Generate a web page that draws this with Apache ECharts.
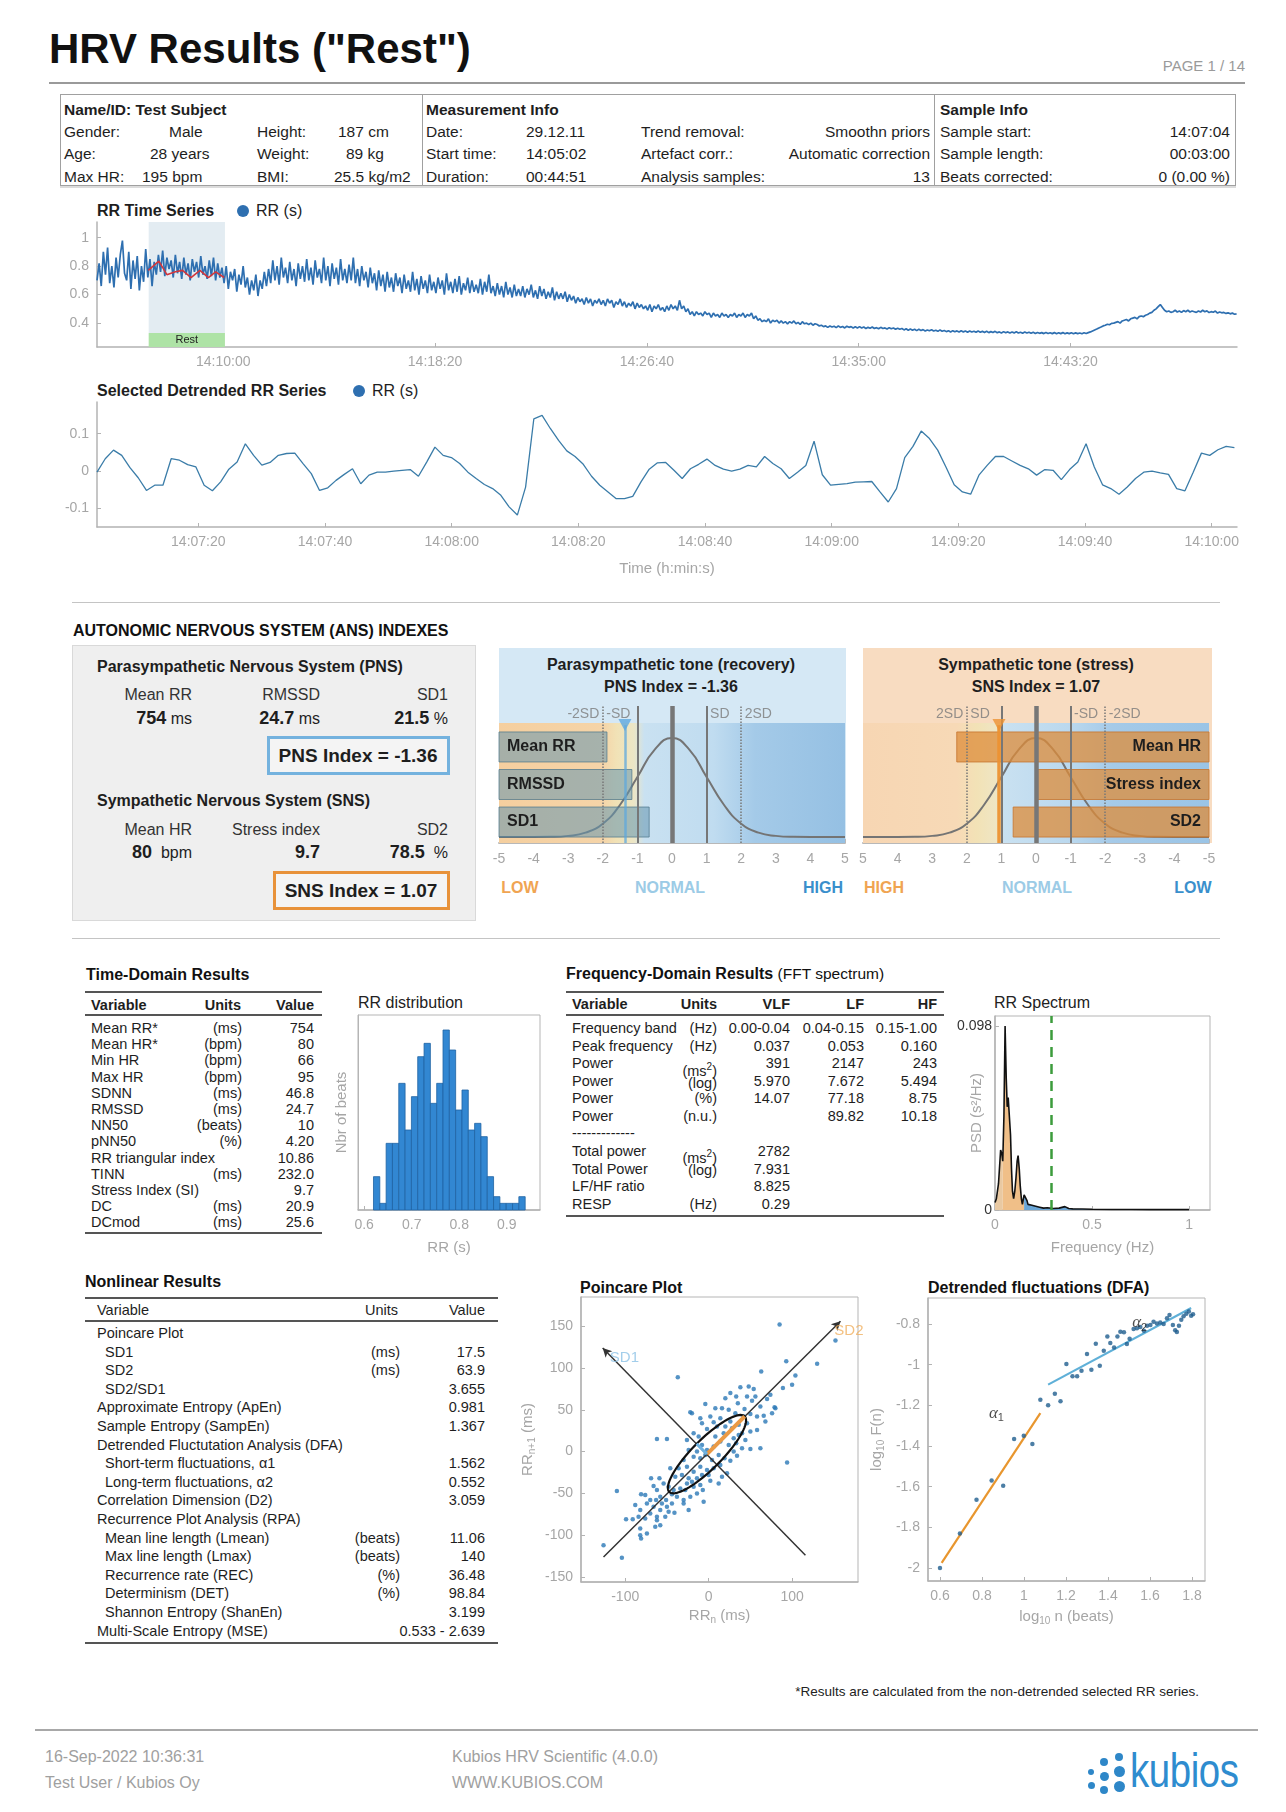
<!DOCTYPE html>
<html>
<head>
<meta charset="utf-8">
<title>HRV Results</title>
<script src="https://cdn.jsdelivr.net/npm/echarts@6.0.0/dist/echarts.min.js"></script>
<style>
html,body{margin:0;padding:0;background:#fff;}
#page{position:relative;width:1286px;height:1812px;overflow:hidden;font-family:"Liberation Sans",Arial,Helvetica,sans-serif;color:#1e1e1e;}
</style>
</head>
<body>
<div id="page"></div>
<script>
// ======================= DATA =======================
const reportTitle = 'HRV Results ("Rest")';
const pageLabel = 'PAGE 1 / 14';

const subjectHeader = 'Name/ID: Test Subject';
const subjectRows = [['Gender:','Male'],['Age:','28 years'],['Max HR:','195 bpm']];
const bodyRows = [['Height:','187 cm'],['Weight:','89 kg'],['BMI:','25.5 kg/m2']];
const measHeader = 'Measurement Info';
const measRows = [['Date:','29.12.11'],['Start time:','14:05:02'],['Duration:','00:44:51']];
const procRows = [['Trend removal:','Smoothn priors'],['Artefact corr.:','Automatic correction'],['Analysis samples:','13']];
const sampleHeader = 'Sample Info';
const sampleRows = [['Sample start:','14:07:04'],['Sample length:','00:03:00'],['Beats corrected:','0 (0.00 %)']];

// RR time series (s): one reading every 5 s from 14:05:02 (seconds of day)
const rrStartSec = 50702, rrStepSec = 5, rrEndSec = 53393;
const rrValues = [
0.70,0.82,0.66,0.90,0.74,0.93,0.68,0.80,0.65,0.86,0.72,0.88,0.98,0.75,0.70,0.90,0.64,0.84,0.71,0.87,
0.63,0.80,0.69,0.92,0.72,0.85,0.66,0.83,0.74,0.88,0.76,0.91,0.73,0.86,0.78,0.84,0.72,0.88,0.75,0.83,
0.71,0.86,0.74,0.82,0.70,0.85,0.76,0.83,0.72,0.87,0.74,0.80,0.71,0.84,0.73,0.86,0.70,0.82,0.72,0.79,
0.68,0.80,0.64,0.76,0.70,0.78,0.62,0.74,0.67,0.80,0.65,0.72,0.60,0.70,0.63,0.74,0.59,0.70,0.64,0.76,
0.66,0.78,0.68,0.84,0.70,0.80,0.67,0.86,0.72,0.79,0.68,0.83,0.70,0.78,0.66,0.82,0.71,0.80,0.69,0.85,
0.70,0.79,0.67,0.84,0.72,0.78,0.68,0.86,0.70,0.80,0.66,0.82,0.71,0.79,0.67,0.85,0.70,0.78,0.68,0.81,
0.70,0.86,0.68,0.78,0.66,0.80,0.70,0.76,0.65,0.79,0.68,0.75,0.63,0.77,0.66,0.74,0.62,0.76,0.65,0.72,
0.62,0.75,0.66,0.72,0.61,0.74,0.64,0.70,0.62,0.76,0.63,0.71,0.60,0.73,0.64,0.70,0.61,0.74,0.63,0.69,
0.61,0.72,0.64,0.70,0.60,0.75,0.63,0.69,0.61,0.71,0.62,0.73,0.60,0.68,0.63,0.72,0.61,0.70,0.62,0.67,
0.61,0.71,0.60,0.69,0.62,0.74,0.61,0.66,0.59,0.68,0.60,0.66,0.58,0.69,0.60,0.65,0.58,0.67,0.59,0.64,
0.59,0.66,0.58,0.64,0.60,0.67,0.58,0.63,0.57,0.66,0.59,0.64,0.57,0.62,0.58,0.65,0.56,0.62,0.57,0.61,
0.57,0.62,0.55,0.60,0.56,0.59,0.54,0.58,0.55,0.57,0.53,0.58,0.54,0.57,0.52,0.56,0.54,0.57,0.53,0.56,
0.52,0.57,0.54,0.56,0.51,0.55,0.53,0.57,0.52,0.55,0.51,0.54,0.52,0.55,0.50,0.54,0.51,0.53,0.50,0.52,
0.49,0.53,0.48,0.52,0.50,0.53,0.49,0.51,0.48,0.52,0.49,0.53,0.50,0.52,0.49,0.56,0.50,0.52,0.48,0.50,
0.46,0.48,0.45,0.48,0.46,0.47,0.45,0.48,0.46,0.47,0.44,0.47,0.45,0.46,0.44,0.47,0.45,0.46,0.44,0.46,
0.45,0.47,0.44,0.46,0.45,0.47,0.44,0.46,0.45,0.47,0.43,0.45,0.42,0.43,0.41,0.42,0.41,0.43,0.40,0.42,
0.41,0.42,0.40,0.415,0.40,0.41,0.395,0.41,0.40,0.415,0.395,0.405,0.39,0.41,0.395,0.40,0.39,0.40,0.385,0.395,
0.39,0.38,0.385,0.375,0.38,0.37,0.38,0.372,0.378,0.368,0.38,0.37,0.376,0.366,0.378,0.37,0.375,0.365,0.374,0.366,
0.375,0.365,0.372,0.362,0.37,0.364,0.372,0.362,0.368,0.36,0.37,0.362,0.366,0.358,0.368,0.36,0.365,0.356,0.364,0.357,
0.362,0.352,0.36,0.35,0.358,0.35,0.357,0.347,0.356,0.348,0.354,0.345,0.352,0.346,0.353,0.344,0.35,0.342,0.352,0.343,
0.348,0.34,0.346,0.338,0.347,0.339,0.345,0.337,0.346,0.338,0.344,0.336,0.345,0.337,0.343,0.335,0.344,0.336,0.342,0.334,
0.342,0.333,0.34,0.334,0.342,0.332,0.338,0.331,0.34,0.332,0.338,0.33,0.337,0.331,0.339,0.33,0.336,0.329,0.337,0.33,
0.336,0.328,0.335,0.327,0.334,0.328,0.333,0.326,0.334,0.327,0.332,0.326,0.333,0.325,0.332,0.326,0.333,0.325,0.331,0.326,
0.332,0.325,0.331,0.326,0.33,0.325,0.332,0.327,0.333,0.338,0.345,0.352,0.358,0.366,0.372,0.38,0.385,0.392,0.388,0.398,
0.40,0.405,0.41,0.40,0.415,0.42,0.425,0.415,0.43,0.435,0.44,0.43,0.445,0.45,0.445,0.455,0.46,0.47,0.475,0.49,
0.50,0.515,0.53,0.51,0.49,0.48,0.485,0.475,0.48,0.49,0.478,0.485,0.475,0.488,0.48,0.49,0.478,0.485,0.48,0.475,
0.485,0.478,0.49,0.48,0.486,0.474,0.48,0.476,0.484,0.47,0.478,0.472,0.475,0.468,0.472,0.465,0.47,0.462,0.465];
const restStartSec = 50824, restEndSec = 51004, restLabel = 'Rest';
const restTrendOffsets = [121,146,165,185,202,222,243,263,280,300];
const restTrendValues = [0.77,0.835,0.74,0.76,0.77,0.72,0.77,0.72,0.76,0.72];
const rrXTicks = [51000,51500,52000,52500,53000];
const rrYTicks = [0.4,0.6,0.8,1];

// Selected detrended RR series (s): 14:07:04 -> 14:10:04
const detStartSec = 50824, detStepSec = 1.3014, detEndSec = 51004;
const detValues = [
-0.003,0.033,0.056,0.042,0.009,-0.018,-0.052,-0.038,-0.038,0.033,
0.029,0.017,0.011,-0.038,-0.053,-0.029,0.005,0.024,0.073,0.042,
0.016,0.023,0.042,0.047,0.048,0.02,-0.007,-0.052,-0.045,-0.025,
-0.009,0.006,-0.034,-0.011,-0.003,-0.003,0.0,0.002,0.004,-0.014,
0.024,0.064,0.042,0.036,0.02,-0.003,-0.02,-0.036,-0.047,-0.065,
-0.096,-0.118,-0.043,0.14,0.149,0.114,0.082,0.054,0.039,0.018,
-0.014,-0.038,-0.056,-0.074,-0.074,-0.068,-0.029,0.005,0.022,0.023,
0.002,-0.02,0.006,0.018,0.032,0.015,0.005,0.0,0.005,0.015,
0.011,0.039,0.02,0.006,-0.02,-0.003,0.015,0.08,-0.01,-0.038,
-0.036,-0.034,-0.03,-0.029,-0.028,-0.056,-0.083,-0.047,0.036,0.066,
0.107,0.087,0.056,0.011,-0.037,-0.056,-0.062,-0.011,0.015,0.039,
0.039,0.027,0.015,0.006,-0.011,0.004,0.002,-0.023,0.004,0.024,
0.073,0.011,-0.037,-0.047,-0.062,-0.043,-0.02,-0.003,0.0,-0.005,
-0.009,-0.047,-0.053,-0.003,0.048,0.042,0.057,0.066,0.063];
const detXTicks = [50840,50860,50880,50900,50920,50940,50960,50980,51000];
const detYTicks = [-0.1,0,0.1];

// ANS indexes
const ansTitle = 'AUTONOMIC NERVOUS SYSTEM (ANS) INDEXES';
const pnsTitle = 'Parasympathetic Nervous System (PNS)';
const pnsLabels = ['Mean RR','RMSSD','SD1'];
const pnsValues = ['754','24.7','21.5'];
const pnsUnits = ['ms','ms','%'];
const pnsIndex = -1.36;
const snsTitle = 'Sympathetic Nervous System (SNS)';
const snsLabels = ['Mean HR','Stress index','SD2'];
const snsValues = ['80','9.7','78.5'];
const snsUnits = ['bpm','','%'];
const snsIndex = 1.07;
const pnsBarValues = [-1.88,-1.16,-0.66];
const snsBarValues = [2.29,0.0,0.66];
const bellX = [-5,-4,-3.5,-3,-2.5,-2,-1.5,-1,-0.5,0,0.5,1,1.5,2,2.5,3,3.5,4,5];
const bellY = [0.044,0.044,0.045,0.052,0.076,0.141,0.279,0.482,0.681,0.766,0.681,0.482,0.279,0.141,0.076,0.052,0.045,0.044,0.044];
const sdLines = [-2,-1,0,1,2];

// Time-domain
const timeRows = [['Mean RR*','(ms)','754'],['Mean HR*','(bpm)','80'],['Min HR','(bpm)','66'],['Max HR','(bpm)','95'],['SDNN','(ms)','46.8'],['RMSSD','(ms)','24.7'],['NN50','(beats)','10'],['pNN50','(%)','4.20'],['RR triangular index','','10.86'],['TINN','(ms)','232.0'],['Stress Index (SI)','','9.7'],['DC','(ms)','20.9'],['DCmod','(ms)','25.6']];
// RR distribution histogram
const histBinStart = 0.6196, histBinWidth = 0.0133;
const histCounts = [5,1,10,10,19,12,17,23,25,16,19,27,24,15,18,12,13,11,5,2,1,1,1,2];

// Frequency-domain
const freqHeader = ['Variable','Units','VLF','LF','HF'];
const freqRows = [['Frequency band','(Hz)','0.00-0.04','0.04-0.15','0.15-1.00'],['Peak frequency','(Hz)','0.037','0.053','0.160'],['Power','','391','2147','243'],['Power','','5.970','7.672','5.494'],['Power','(%)','14.07','77.18','8.75'],['Power','(n.u.)','','89.82','10.18'],['-------------','','','',''],['Total power','','2782','',''],['Total Power','','7.931','',''],['LF/HF ratio','','8.825','',''],['RESP','(Hz)','0.29','','']];
const specFreq = [0,0.007,0.018,0.029,0.035,0.04,0.046,0.052,0.058,0.063,0.068,0.074,0.08,0.085,0.09,0.096,0.102,0.108,0.114,0.119,0.125,0.13,0.136,0.141,0.15,0.159,0.165,0.17,0.175,0.18,0.19,0.2,0.21,0.22,0.23,0.25,0.27,0.3,0.33,0.36,0.37,0.38,0.4,0.45,0.5,0.6,0.7,0.8,0.9,1.0];
const specPsd = [0.004,0.006,0.014,0.032,0.03,0.026,0.05,0.098,0.07,0.055,0.06,0.061,0.04,0.022,0.01,0.006,0.01,0.017,0.026,0.029,0.022,0.013,0.006,0.003,0.008,0.009,0.005,0.003,0.0035,0.002,0.0025,0.0015,0.002,0.001,0.0015,0.001,0.0012,0.0008,0.001,0.0018,0.0012,0.0008,0.0006,0.0005,0.0004,0.0003,0.0003,0.0002,0.0002,0.0002];
const respFreq = 0.29;
const bandEdges = [0.04,0.15];

// Nonlinear
const nonlinRows = [[0,'Poincare Plot','',''],[1,'SD1','(ms)','17.5'],[1,'SD2','(ms)','63.9'],[1,'SD2/SD1','','3.655'],[0,'Approximate Entropy (ApEn)','','0.981'],[0,'Sample Entropy (SampEn)','','1.367'],[0,'Detrended Fluctutation Analysis (DFA)','',''],[1,'Short-term fluctuations, &alpha;1','','1.562'],[1,'Long-term fluctuations, &alpha;2','','0.552'],[0,'Correlation Dimension (D2)','','3.059'],[0,'Recurrence Plot Analysis (RPA)','',''],[1,'Mean line length (Lmean)','(beats)','11.06'],[1,'Max line length (Lmax)','(beats)','140'],[1,'Recurrence rate (REC)','(%)','36.48'],[1,'Determinism (DET)','(%)','98.84'],[1,'Shannon Entropy (ShanEn)','','3.199'],[0,'Multi-Scale Entropy (MSE)','','0.533 - 2.639']];

// Poincare
const poincareX = [85,152,130,93,104,63,-37,100,89,74,70,76,79,56,48,38,54,46,33,26,20,35,43,52,62,66,58,50,42,32,24,16,-4,-20,-10,2,6,14,26,36,46,50,40,30,18,10,-2,-8,-18,-26,-50,-62,14,24,33,40,50,62,6,-2,-8,-14,-24,-18,-10,-4,4,12,19,26,34,94,14,6,-2,-10,-18,-26,-32,-24,-14,-8,0,12,2,-10,-18,-26,-34,-42,-48,-44,-38,-30,-22,-14,-7,-51,-58,-62,-66,-54,-59,-69,-44,-50,-56,-63,-70,-76,-81,-74,-66,-58,-48,-41,-30,-24,-52,-62,-70,-88,-82,-76,-84,-91,-62,-58,-64,-82,-99,-82,-74,-81,-126,-104,-110,-22,20,28,8,-30,-40,-36,30,44,-20,58,68,80,22,-6,8,36,-12,16,-46,-28];
const poincareY = [152,133,105,108,91,96,89,80,76,68,63,46,53,66,78,77,75,66,66,70,64,58,51,61,54,43,42,45,42,46,50,52,57,46,40,42,35,40,36,32,34,24,22,16,22,30,27,34,22,14,15,15,12,8,10,4,3,4,6,2,8,0,2,-6,-8,-4,-10,-4,-8,-11,-5,-13,-16,-20,-22,-18,-24,-18,-28,-32,-32,-28,-28,-38,-35,-40,-42,-38,-44,-46,-42,-51,-54,-58,-54,-50,-46,-58,-54,-46,-41,-38,-32,-32,-62,-66,-62,-58,-58,-52,-51,-62,-66,-70,-72,-73,-62,-70,-78,-78,-74,-64,-70,-80,-78,-81,-82,-88,-90,-92,-81,-100,-98,-104,-112,-127,-47,47,30,28,18,-10,-30,-20,0,14,-36,26,36,52,-26,-60,52,20,18,-30,-20,-46];
const poincareCenter = [-2,-3];
const sd1 = 17.5, sd2 = 63.9;
const sd2Axis = [[-126,-126],[158,156]];
const sd1Axis = [[116,-124],[-127,124]];

// DFA
const dfaLogN = [0.6,0.695,0.774,0.846,0.901,0.953,0.999,1.04,1.078,1.115,1.147,1.174,1.202,1.231,1.253,1.274,1.30,1.321,1.342,1.361,1.38,1.397,1.411,1.429,1.445,1.459,1.476,1.49,1.503,1.522,1.538,1.554,1.571,1.586,1.602,1.617,1.633,1.649,1.665,1.681,1.693,1.709,1.72,1.728,1.738,1.749,1.76,1.773,1.785,1.796,1.805];
const dfaLogF = [-2.0,-1.83,-1.664,-1.57,-1.595,-1.366,-1.35,-1.39,-1.172,-1.2,-1.143,-1.18,-0.997,-1.057,-1.057,-1.03,-0.948,-1.025,-0.897,-1.005,-0.931,-0.861,-0.893,-0.915,-0.861,-0.838,-0.841,-0.898,-0.872,-0.825,-0.821,-0.815,-0.833,-0.808,-0.805,-0.789,-0.798,-0.792,-0.8,-0.772,-0.756,-0.805,-0.831,-0.839,-0.808,-0.779,-0.762,-0.749,-0.739,-0.759,-0.752];
const dfaAlpha1Fit = [[0.608,-1.975],[1.078,-1.238]];
const dfaAlpha2Fit = [[1.115,-1.098],[1.796,-0.721]];

const footnote = '*Results are calculated from the non-detrended selected RR series.';
const footerLeft = ['16-Sep-2022 10:36:31','Test User / Kubios Oy'];
const footerMid = ['Kubios HRV Scientific (4.0.0)','WWW.KUBIOS.COM'];

// ======================= HELPERS =======================
const page = document.getElementById('page');
const FONT = 'Liberation Sans, Arial, sans-serif';
const GREY = '#a6a6a6';
function el(css, html){ const d=document.createElement('div'); d.style.position='absolute'; Object.assign(d.style, css); if(html!==undefined) d.innerHTML=html; page.appendChild(d); return d; }
function T(html, x, y, o){ o=o||{};
  const tx = o.align==='right'?'-100%':(o.align==='center'?'-50%':'0');
  const d = el({left:x+'px', top:y+'px', fontSize:(o.size||15)+'px', fontWeight:o.bold?'bold':'normal', color:o.color||'#1e1e1e', whiteSpace:'nowrap', lineHeight:'1.15', transform:'translate('+tx+',-50%)'}, html);
  if(o.italic) d.style.fontStyle='italic'; if(o.css) Object.assign(d.style,o.css); return d; }
function R(x,y,w,h,css){ return el(Object.assign({left:x+'px',top:y+'px',width:w+'px',height:h+'px'}, css||{})); }
function C(x,y,w,h){ return echarts.init(R(x,y,w,h)); }
function hms(s){ s=Math.round(s); const h=Math.floor(s/3600), m=Math.floor((s%3600)/60), ss=s%60; return h+':'+String(m).padStart(2,'0')+':'+String(ss).padStart(2,'0'); }
function num(v){ return String(+v.toFixed(3)); }
function G(g){ return Object.assign({outerBoundsMode:'none', containLabel:false}, g); }
function axisCommon(ticks, fmt){ return {
  nameMoveOverlap:false,
  axisLine:{show:true, onZero:false, lineStyle:{color:'#b3b3b3', width:1.5}},
  axisTick:{show:true, inside:true, length:4, customValues:ticks, lineStyle:{color:'#b3b3b3'}},
  axisLabel:{customValues:ticks, formatter:fmt||num, color:GREY, fontSize:14, fontFamily:FONT},
  splitLine:{show:false}}; }
const HIDDEN = {color:'rgba(0,0,0,0)'};

// ======================= HEADER =======================
T(reportTitle, 49, 49, {size:42, bold:true, color:'#111'});
T(pageLabel, 1245, 66, {size:15, align:'right', color:'#9a9a9a'});
R(49, 82, 1196, 2, {background:'#9a9a9a'});

R(60, 94, 1176, 92, {border:'1px solid #a0a0a0', boxShadow:'0 2px 0 #dcdcdc', boxSizing:'border-box'});
R(422, 94, 1, 92, {background:'#a0a0a0'});
R(934, 94, 1, 92, {background:'#a0a0a0'});
const infoRowY = [132,154,177];
T(subjectHeader, 64, 110, {size:15.5, bold:true});
T(measHeader, 426, 110, {size:15.5, bold:true});
T(sampleHeader, 940, 110, {size:15.5, bold:true});
const subjValX = [169,150,142], bodyValX = [338,346,334];
subjectRows.forEach((r,i)=>{ T(r[0],64,infoRowY[i],{size:15.5}); T(r[1],subjValX[i],infoRowY[i],{size:15.5}); });
bodyRows.forEach((r,i)=>{ T(r[0],257,infoRowY[i],{size:15.5}); T(r[1],bodyValX[i],infoRowY[i],{size:15.5}); });
measRows.forEach((r,i)=>{ T(r[0],426,infoRowY[i],{size:15.5}); T(r[1],526,infoRowY[i],{size:15.5}); });
procRows.forEach((r,i)=>{ T(r[0],641,infoRowY[i],{size:15.5}); T(r[1],930,infoRowY[i],{size:15.5,align:'right'}); });
sampleRows.forEach((r,i)=>{ T(r[0],940,infoRowY[i],{size:15.5}); T(r[1],1230,infoRowY[i],{size:15.5,align:'right'}); });

// ======================= RR TIME SERIES =======================
T('RR Time Series', 97, 211, {size:16, bold:true});
R(237, 205, 12, 12, {background:'#2e6fb0', borderRadius:'50%'});
T('RR (s)', 256, 211, {size:16});
const rrChart = C(0, 200, 1286, 180);
rrChart.setOption({
  animation:false, textStyle:{fontFamily:FONT},
  grid:G({left:97, right:49, top:22, bottom:33}),
  xAxis:Object.assign({type:'value', min:rrStartSec, max:rrEndSec}, axisCommon(rrXTicks, hms)),
  yAxis:Object.assign({type:'value', min:0.232, max:1.11}, axisCommon(rrYTicks)),
  series:[
    {type:'line', showSymbol:false, z:3,
     data: rrValues.map((v,i)=>[rrStartSec+i*rrStepSec, v]),
     lineStyle:{color:'#2e6fb0', width:1.7},
     markArea:{silent:true, data:[
       [{xAxis:restStartSec, yAxis:0.33, itemStyle:{color:'#e3ecf2'}},{xAxis:restEndSec, yAxis:1.11}],
       [{name:restLabel, xAxis:restStartSec, yAxis:0.232, itemStyle:{color:'#aee3a6'}, label:{show:true, position:'inside', color:'#222', fontSize:11}},{xAxis:restEndSec, yAxis:0.33}]
     ]}},
    {type:'line', showSymbol:false, z:4, data: restTrendValues.map((v,i)=>[rrStartSec+restTrendOffsets[i], v]),
     lineStyle:{color:'#d0363c', width:1.6}}
  ]
});

// ======================= DETRENDED =======================
T('Selected Detrended RR Series', 97, 391, {size:16, bold:true});
R(353, 385, 12, 12, {background:'#2e6fb0', borderRadius:'50%'});
T('RR (s)', 372, 391, {size:16});
const detChart = C(0, 380, 1286, 200);
detChart.setOption({
  animation:false, textStyle:{fontFamily:FONT},
  grid:G({left:97, right:49, top:22, bottom:53}),
  xAxis:Object.assign({type:'value', min:detStartSec, max:detEndSec, name:'Time (h:min:s)', nameLocation:'middle', nameGap:34, nameTextStyle:{color:GREY, fontSize:15}}, axisCommon(detXTicks, hms)),
  yAxis:Object.assign({type:'value', min:-0.150, max:0.185}, axisCommon(detYTicks)),
  series:[{type:'line', showSymbol:false, data: detValues.map((v,i)=>[detStartSec+i*detStepSec, v]), lineStyle:{color:'#3a7ca8', width:1.3}}]
});
R(72, 602, 1148, 1, {background:'#c4c4c4'});

// ======================= ANS =======================
T(ansTitle, 73, 631, {size:16, bold:true, color:'#111'});
R(72, 645, 404, 276, {background:'#efefef', border:'1px solid #d9d9d9', boxSizing:'border-box'});
T(pnsTitle, 97, 667, {size:16, bold:true});
const colR = [192,320,448];
pnsLabels.forEach((l,i)=>{ T(l, colR[i], 695, {size:16, align:'right', color:'#333'});
  T('<b style="font-size:18px">'+pnsValues[i]+'</b> '+pnsUnits[i], colR[i], 718, {size:16, align:'right'}); });
R(267, 736, 183, 39, {border:'3px solid #74b2de', boxSizing:'border-box', background:'#f4f4f4'});
T('PNS Index = '+pnsIndex.toFixed(2), 358, 756, {size:19, bold:true, align:'center'});
T(snsTitle, 97, 801, {size:16, bold:true});
snsLabels.forEach((l,i)=>{ T(l, colR[i], 830, {size:16, align:'right', color:'#333'});
  T('<b style="font-size:18px">'+snsValues[i]+'</b>'+(snsUnits[i]?'&nbsp; '+snsUnits[i]:''), colR[i], 852, {size:16, align:'right'}); });
R(273, 871, 177, 39, {border:'3px solid #e8923a', boxSizing:'border-box', background:'#f4f4f4'});
T('SNS Index = '+snsIndex.toFixed(2), 361, 891, {size:19, bold:true, align:'center'});

// panels
R(499, 648, 347, 195, {background:'#d5e8f5'});
R(863, 648, 349, 195, {background:'#f8dcc1'});
T('Parasympathetic tone (recovery)', 671, 665, {size:16, bold:true, align:'center'});
T('PNS Index = '+pnsIndex.toFixed(2), 671, 687, {size:16, bold:true, align:'center'});
T('Sympathetic tone (stress)', 1036, 665, {size:16, bold:true, align:'center'});
T('SNS Index = '+snsIndex.toFixed(2), 1036, 687, {size:16, bold:true, align:'center'});
T('LOW', 520, 888, {size:16, bold:true, color:'#f0a452', align:'center'});
T('NORMAL', 670, 888, {size:16, bold:true, color:'#9ccbe6', align:'center'});
T('HIGH', 823, 888, {size:16, bold:true, color:'#3a8fcc', align:'center'});
T('HIGH', 884, 888, {size:16, bold:true, color:'#f0a452', align:'center'});
T('NORMAL', 1037, 888, {size:16, bold:true, color:'#9ccbe6', align:'center'});
T('LOW', 1193, 888, {size:16, bold:true, color:'#3a8fcc', align:'center'});

const barRowY = [0.701,0.427,0.153];
function grad(stops){ return {type:'linear', x:0, y:0, x2:1, y2:0, colorStops:stops.map(s=>({offset:s[0], color:s[1]}))}; }
function ansOption(opt){
  const inverse = opt.inverse;
  const sdLabels = inverse
    ? [[2,'left','2SD'],[2,'right','SD'],[-1,'right','-SD'],[-2,'right','-2SD']]
    : [[-2,'left','-2SD'],[-2,'right','-SD'],[1,'right','SD'],[2,'right','2SD']];
  return {
    animation:false, textStyle:{fontFamily:FONT},
    grid:G({left:19, right:25, top:66, bottom:37}),
    xAxis:{type:'value', min:-5, max:5, interval:1, inverse:inverse,
      axisLine:{onZero:false, lineStyle:{color:'#b8b8b8', width:2}}, axisTick:{inside:true, length:4, lineStyle:{color:'#b8b8b8'}},
      axisLabel:{color:GREY, fontSize:14, margin:9}, splitLine:{show:false}},
    yAxis:{type:'value', min:0, max:1, show:false},
    series:[
      {type:'line', smooth:true, showSymbol:false, z:2, data:bellX.map((x,i)=>[x,bellY[i]]),
       lineStyle:{color:'#747474', width:2},
       markArea:{silent:true, z:1, data:[[{xAxis:-5, yAxis:0, itemStyle:{color:grad(opt.bg)}},{xAxis:5, yAxis:0.876}]]}},
      {type:'scatter', symbol:'circle', symbolSize:1, itemStyle:HIDDEN, z:2, silent:true,
       data: sdLabels.map(s=>({value:[s[0],0.94], label:{show:true, position:s[1], distance:3, formatter:s[2], color:'#7a7a7a', fontSize:14}})),
       markLine:{silent:true, symbol:['none','none'], label:{show:false},
         data: sdLines.map(v=>[{coord:[v,0], lineStyle:{color:'#777', width: v===0?4.5:(Math.abs(v)===1?2:1.5), type: Math.abs(v)===2?'dotted':'solid'}},{coord:[v,1]}])}},
      {type:'custom', z:4, data: opt.bars.map((v,i)=>[v, barRowY[i]]), encode:{x:0,y:1},
       renderItem:function(params, api){
         const v=api.value(0), yc=api.value(1);
         const p0=api.coord([-5,yc]), p1=api.coord([v,yc]);
         const x=Math.min(p0[0],p1[0]), w=Math.abs(p1[0]-p0[0]), h=30;
         const lab = opt.labels[params.dataIndex];
         return {type:'group', children:[
           {type:'rect', shape:{x:x, y:p0[1]-h/2, width:w, height:h}, style:{fill:opt.barFill, stroke:opt.barStroke, lineWidth:1}},
           {type:'text', style:{text:lab, x: inverse? x+w-8 : x+8, y:p0[1], align: inverse?'right':'left', verticalAlign:'middle', fontSize:16, fontWeight:'bold', fontFamily:FONT, fill:'#1e1e1e'}}
         ]};
       }},
      {type:'scatter', z:6, symbol:'triangle', symbolRotate:180, symbolSize:[13,12], data:[[opt.index,0.861]],
       itemStyle:{color:opt.marker},
       markLine:{silent:true, symbol:['none','none'], label:{show:false}, lineStyle:{color:opt.marker, width:opt.markerW, type:'solid', opacity:opt.markerOp},
         data:[[{coord:[opt.index,0]},{coord:[opt.index,0.86]}]]}}
    ]
  };
}
const pnsChart = C(480, 640, 390, 240);
pnsChart.setOption(ansOption({inverse:false, index:pnsIndex, bars:pnsBarValues, labels:pnsLabels,
  bg:[[0,'#f5cf9f'],[0.3,'#f5d4a8'],[0.34,'#f1e2b6'],[0.39,'#ece6c6'],[0.42,'#c9e1f1'],[0.62,'#c0dcf0'],[0.74,'#a4cae8'],[1,'#95c0e3']],
  barFill:'rgba(100,150,175,0.55)', barStroke:'rgba(80,120,140,0.75)', marker:'#5ea8de', markerW:2.5, markerOp:0.75}));
const snsChart = C(844, 640, 390, 240);
snsChart.setOption(ansOption({inverse:true, index:snsIndex, bars:snsBarValues, labels:snsLabels,
  bg:[[0,'#f7d6b3'],[0.27,'#f7d9b6'],[0.33,'#f2e2b6'],[0.395,'#eee6c6'],[0.405,'#c9e1f1'],[0.6,'#bad8ee'],[0.72,'#a5cae8'],[1,'#9ac4e6']],
  barFill:'rgba(222,140,58,0.75)', barStroke:'rgba(200,120,50,0.85)', marker:'#ec9232', markerW:3.5, markerOp:0.95}));
R(72, 938, 1148, 1, {background:'#c4c4c4'});

// ======================= TIME-DOMAIN =======================
T('Time-Domain Results', 86, 975, {size:16, bold:true, color:'#111'});
R(85, 991, 237, 2, {background:'#555'});
T('Variable', 91, 1005, {size:14.5, bold:true}); T('Units', 241, 1005, {size:14.5, bold:true, align:'right'}); T('Value', 314, 1005, {size:14.5, bold:true, align:'right'});
R(85, 1014, 237, 2, {background:'#555'});
timeRows.forEach((r,i)=>{ const y=1028+i*16.2; T(r[0],91,y,{size:14.5}); if(r[1]) T(r[1],242,y,{size:14.5,align:'right'}); T(r[2],314,y,{size:14.5,align:'right'}); });
R(85, 1232, 237, 2, {background:'#555'});

T('RR distribution', 358, 1003, {size:16, color:'#222'});
const histChart = C(330, 990, 230, 280);
histChart.setOption({
  animation:false, textStyle:{fontFamily:FONT},
  grid:G({left:28, right:20, top:25, bottom:60, show:true, borderColor:'#b5b5b5', borderWidth:1}),
  xAxis:Object.assign({type:'value', min:0.587, max:0.97, name:'RR (s)', nameLocation:'middle', nameGap:30, nameTextStyle:{color:GREY, fontSize:15}}, axisCommon([0.6,0.7,0.8,0.9])),
  yAxis:{type:'value', min:0, max:29.25, name:'Nbr of beats', nameLocation:'middle', nameGap:9, nameMoveOverlap:false, nameTextStyle:{color:GREY, fontSize:15},
    axisLine:{show:true, onZero:false, lineStyle:{color:'#b5b5b5'}}, axisTick:{show:false}, axisLabel:{show:false}, splitLine:{show:false}},
  series:[{type:'custom', data: histCounts.map((c,i)=>[histBinStart+i*histBinWidth, c]), encode:{x:0,y:1},
    renderItem:function(p, api){ const x0=api.value(0), c=api.value(1);
      const a=api.coord([x0,0]), b=api.coord([x0+histBinWidth,c]);
      return {type:'rect', shape:{x:a[0], y:b[1], width:b[0]-a[0], height:a[1]-b[1]}, style:{fill:'#3287d2', stroke:'#1f63a3', lineWidth:0.8}}; }}]
});

// ======================= FREQUENCY-DOMAIN =======================
T('<b>Frequency-Domain Results</b> <span style="font-size:15.5px">(FFT spectrum)</span>', 566, 974, {size:16, color:'#111'});
R(566, 991, 378, 2, {background:'#555'});
const fColX = [572,717,790,864,937];
T(freqHeader[0], fColX[0], 1004, {size:14.5, bold:true});
for(let k=1;k<5;k++) T(freqHeader[k], fColX[k], 1004, {size:14.5, bold:true, align:'right'});
R(566, 1014, 378, 2, {background:'#555'});
const fRowY = [1028,1046,1063,1081,1098,1116,1133,1151,1169,1186,1204];
freqRows.forEach((r,i)=>{ const y=fRowY[i]; T(r[0],fColX[0],y,{size:14.5});
  if(r[1]) T(r[1],fColX[1],y,{size:14.5,align:'right'});
  for(let k=2;k<5;k++) if(r[k]) T(r[k],fColX[k],y,{size:14.5,align:'right'}); });
T('(ms<sup style="font-size:10px">2</sup>)', 717, 1070, {size:14.5, align:'right'});
T('(log)', 717, 1083, {size:14.5, align:'right'});
T('(ms<sup style="font-size:10px">2</sup>)', 717, 1157, {size:14.5, align:'right'});
T('(log)', 717, 1170, {size:14.5, align:'right'});
R(566, 1215, 378, 2, {background:'#555'});

T('RR Spectrum', 994, 1003, {size:16, color:'#222'});
const specChart = C(930, 990, 310, 280);
const specPts = specFreq.map((f,i)=>[f, specPsd[i]]);
specChart.setOption({
  animation:false, textStyle:{fontFamily:FONT},
  grid:G({left:65, right:30, top:26, bottom:60, show:true, borderColor:'#b5b5b5', borderWidth:1}),
  xAxis:Object.assign({type:'value', min:0, max:1.108, name:'Frequency (Hz)', nameLocation:'middle', nameGap:30, nameTextStyle:{color:GREY, fontSize:15}}, axisCommon([0,0.5,1])),
  yAxis:(function(){ const a=Object.assign({type:'value', min:0, max:0.1034, name:'PSD (s\u00B2/Hz)', nameLocation:'middle', nameGap:11, nameTextStyle:{color:GREY, fontSize:15}}, axisCommon([0,0.098])); a.axisLabel.color='#333'; a.axisLabel.margin=3; return a; })(),
  series:[
    {type:'line', showSymbol:false, z:2, data: specPts.filter(p=>p[0]<=bandEdges[0]), lineStyle:{width:0}, areaStyle:{color:'#e9c9a2', opacity:1}},
    {type:'line', showSymbol:false, z:2, data: specPts.filter(p=>p[0]>=bandEdges[0] && p[0]<=bandEdges[1]), lineStyle:{width:0}, areaStyle:{color:'#f0bf88', opacity:1}},
    {type:'line', showSymbol:false, z:2, data: specPts.filter(p=>p[0]>=bandEdges[1]), lineStyle:{width:0}, areaStyle:{color:'#6aa6d6', opacity:1}},
    {type:'line', showSymbol:false, z:3, data: specPts, lineStyle:{color:'#111', width:1.6},
     markLine:{silent:true, symbol:['none','none'], label:{show:false}, lineStyle:{color:'#3c9c3c', width:2.5, type:[10,7]},
       data:[[{coord:[respFreq,0]},{coord:[respFreq,0.1034]}]]}}
  ]
});

// ======================= NONLINEAR =======================
T('Nonlinear Results', 85, 1282, {size:16, bold:true, color:'#111'});
R(85, 1297, 413, 2, {background:'#555'});
T('Variable', 97, 1310, {size:14.5}); T('Units', 398, 1310, {size:14.5, align:'right'}); T('Value', 485, 1310, {size:14.5, align:'right'});
R(85, 1320, 413, 2, {background:'#555'});
nonlinRows.forEach((r,i)=>{ const y=1333+i*18.6; T(r[1], r[0]?105:97, y, {size:14.5});
  if(r[2]) T(r[2],400,y,{size:14.5,align:'right'}); if(r[3]) T(r[3],485,y,{size:14.5,align:'right'}); });
R(85, 1642, 413, 2, {background:'#555'});

// ======================= POINCARE =======================
T('Poincare Plot', 580, 1288, {size:16, bold:true, color:'#111'});
const poinChart = C(500, 1270, 380, 375);
const subRich = {a:{fontSize:15, color:GREY, lineHeight:18}, b:{fontSize:10, color:GREY, lineHeight:18, verticalAlign:'bottom', padding:[8,0,0,0]}};
poinChart.setOption({
  animation:false, textStyle:{fontFamily:FONT},
  grid:G({left:81, right:22, top:27, bottom:63, show:true, borderColor:'#b5b5b5', borderWidth:1}),
  xAxis:Object.assign({type:'value', min:-153, max:179, name:'{a|RR}{b|n}{a| (ms)}', nameLocation:'middle', nameGap:25, nameTextStyle:{rich:subRich}}, axisCommon([-100,0,100])),
  yAxis:Object.assign({type:'value', min:-156, max:185, name:'{a|RR}{b|n+1}{a| (ms)}', nameLocation:'middle', nameGap:44, nameTextStyle:{rich:subRich}}, axisCommon([-150,-100,-50,0,50,100,150])),
  series:[
    {type:'scatter', z:2, symbolSize:4.5, itemStyle:{color:'#2a78b6'}, data: poincareX.map((x,i)=>[x, poincareY[i]]),
     markLine:{silent:true, symbol:['none','arrow'], symbolSize:[7,9], label:{show:false}, lineStyle:{color:'#333', width:1.5, type:'solid'},
       data:[[{coord:sd2Axis[0]},{coord:sd2Axis[1]}],[{coord:sd1Axis[0]},{coord:sd1Axis[1]}]]}},
    {type:'custom', z:5, data:[poincareCenter], encode:{x:0,y:1}, renderItem:function(p, api){
       const c=[api.value(0), api.value(1)], pts=[];
       for(let k=0;k<=90;k++){ const a=k/90*2*Math.PI, u=sd2*Math.cos(a), v=sd1*Math.sin(a);
         pts.push(api.coord([c[0]+(u-v)*Math.SQRT1_2, c[1]+(u+v)*Math.SQRT1_2])); }
       const c0=api.coord(c), e2=api.coord([c[0]+sd2*Math.SQRT1_2, c[1]+sd2*Math.SQRT1_2]), e1=api.coord([c[0]-sd1*Math.SQRT1_2, c[1]+sd1*Math.SQRT1_2]);
       return {type:'group', children:[
         {type:'polyline', shape:{points:pts}, style:{stroke:'#111', lineWidth:2.2, fill:null}},
         {type:'line', shape:{x1:c0[0],y1:c0[1],x2:e2[0],y2:e2[1]}, style:{stroke:'#ea9a45', lineWidth:4}},
         {type:'line', shape:{x1:c0[0],y1:c0[1],x2:e1[0],y2:e1[1]}, style:{stroke:'#6fb2e0', lineWidth:3}}
       ]}; }},
    {type:'scatter', symbol:'circle', symbolSize:1, itemStyle:HIDDEN, z:6, silent:true, data:[
       {value:[sd1Axis[1][0]+8, sd1Axis[1][1]-12], label:{show:true, position:'right', distance:0, formatter:'SD1', color:'#8cc2e6', fontSize:15}},
       {value:[sd2Axis[1][0]-8, sd2Axis[1][1]-12], label:{show:true, position:'right', distance:0, formatter:'SD2', color:'#f0b060', fontSize:15}}]}
  ]
});

// ======================= DFA =======================
T('Detrended fluctuations (DFA)', 928, 1288, {size:16, bold:true, color:'#111'});
const dfaChart = C(860, 1270, 370, 375);
const alphaRich = {i:{fontFamily:'Liberation Serif', fontStyle:'italic', fontSize:17, color:'#222'}, s:{fontSize:11, color:'#222', verticalAlign:'bottom', padding:[9,0,0,0]}};
dfaChart.setOption({
  animation:false, textStyle:{fontFamily:FONT},
  grid:G({left:68, right:25, top:28, bottom:64, show:true, borderColor:'#b5b5b5', borderWidth:1}),
  xAxis:Object.assign({type:'value', min:0.543, max:1.862, name:'{a|log}{b|10}{a| n (beats)}', nameLocation:'middle', nameGap:27, nameTextStyle:{rich:subRich}}, axisCommon([0.6,0.8,1,1.2,1.4,1.6,1.8])),
  yAxis:Object.assign({type:'value', min:-2.064, max:-0.672, name:'{a|log}{b|10}{a| F(n)}', nameLocation:'middle', nameGap:42, nameTextStyle:{rich:subRich}}, axisCommon([-2,-1.8,-1.6,-1.4,-1.2,-1,-0.8])),
  series:[
    {type:'line', showSymbol:false, z:2, data:dfaAlpha1Fit, lineStyle:{color:'#e8962e', width:2.2}},
    {type:'line', showSymbol:false, z:2, data:dfaAlpha2Fit, lineStyle:{color:'#5fb0d8', width:2.2}},
    {type:'scatter', z:3, symbolSize:4.5, itemStyle:{color:'#1f5e8e'}, data: dfaLogN.map((x,i)=>[x, dfaLogF[i]])},
    {type:'scatter', symbol:'circle', symbolSize:1, itemStyle:HIDDEN, z:4, silent:true, data:[
      {value:[0.869,-1.238], label:{show:true, position:'inside', formatter:'{i|\u03B1}{s|1}', rich:alphaRich}},
      {value:[1.551,-0.795], label:{show:true, position:'inside', formatter:'{i|\u03B1}{s|2}', rich:alphaRich}}]}
  ]
});

// ======================= FOOTER =======================
T(footnote, 1199, 1692, {size:13.5, align:'right', color:'#222'});
R(35, 1729, 1223, 2, {background:'#a8a8a8'});
T(footerLeft[0], 45, 1757, {size:16, color:'#a0a0a0'});
T(footerLeft[1], 45, 1783, {size:16, color:'#a0a0a0'});
T(footerMid[0], 452, 1757, {size:16, color:'#a0a0a0'});
T(footerMid[1], 452, 1783, {size:16, color:'#a0a0a0'});
const logoDots = [[1091,1772,3],[1091,1785,3.5],[1104,1762,4],[1104,1776,4.5],[1104,1790,4],[1119,1757,4],[1119,1771,5.5],[1119,1786,5.5]];
logoDots.forEach(d=>R(d[0]-d[2], d[1]-d[2], 2*d[2], 2*d[2], {background:'#2e87c8', borderRadius:'50%'}));
T('kubios', 1130, 1771, {size:48, color:'#2e8ccf', css:{transform:'translate(0,-50%) scaleX(0.8)', transformOrigin:'left center', letterSpacing:'-0.5px'}});
</script>
</body>
</html>
